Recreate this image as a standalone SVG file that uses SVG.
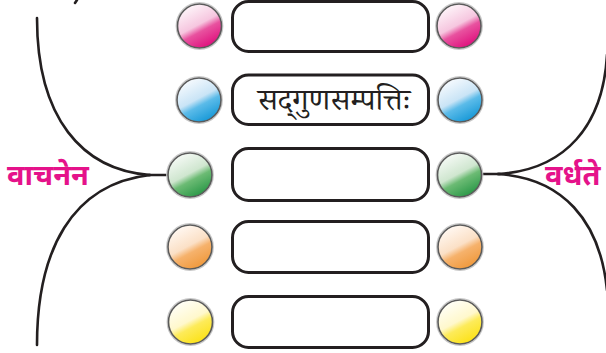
<svg xmlns="http://www.w3.org/2000/svg" width="606" height="353" viewBox="0 0 606 353">
<style>
.box{fill:#fff;stroke:#231f20;stroke-width:3}
.ball{stroke:#5a5a5a;stroke-width:1.6}
.ring{fill:none;stroke:#c8c8c8;stroke-width:1.2}
.conn{fill:none;stroke:#231f20;stroke-width:2.6;stroke-linecap:round}
.lbl{font-family:"Noto Sans Devanagari","Noto Sans",sans-serif;font-weight:bold;font-size:29px;fill:#e5128a}
.txt{font-family:"Noto Serif Devanagari","Noto Sans Devanagari","Noto Sans",serif;font-size:31px;fill:#231f20}
</style>
<defs>
<linearGradient id="gPink" x1="0.25" y1="0.1" x2="0.7" y2="0.95"><stop offset="0" stop-color="#fdf1f7"/><stop offset="0.45" stop-color="#f6c6df"/><stop offset="0.62" stop-color="#e8529f"/><stop offset="1" stop-color="#e0137f"/></linearGradient>
<linearGradient id="gBlue" x1="0.25" y1="0.1" x2="0.7" y2="0.95"><stop offset="0" stop-color="#f2f8fd"/><stop offset="0.45" stop-color="#c9e4f6"/><stop offset="0.62" stop-color="#5bbbe9"/><stop offset="1" stop-color="#1a9ad8"/></linearGradient>
<linearGradient id="gGreen" x1="0.25" y1="0.1" x2="0.7" y2="0.95"><stop offset="0" stop-color="#f2f8f2"/><stop offset="0.45" stop-color="#cfe6cf"/><stop offset="0.62" stop-color="#6cbb74"/><stop offset="1" stop-color="#2e9a4a"/></linearGradient>
<linearGradient id="gOrange" x1="0.25" y1="0.1" x2="0.7" y2="0.95"><stop offset="0" stop-color="#fff6ee"/><stop offset="0.45" stop-color="#fbe0c6"/><stop offset="0.62" stop-color="#f6b26c"/><stop offset="1" stop-color="#f09a3e"/></linearGradient>
<linearGradient id="gYellow" x1="0.25" y1="0.1" x2="0.7" y2="0.95"><stop offset="0" stop-color="#fffef4"/><stop offset="0.45" stop-color="#fff8cc"/><stop offset="0.62" stop-color="#fdeb5a"/><stop offset="1" stop-color="#fce21a"/></linearGradient>
</defs>

<g id="connectors">
<path class="conn" d="M37,18 C37,118 82,170 150,175"/>
<path class="conn" d="M150,175 C72,184 37,250 37,345"/>
<path class="conn" d="M148,175 L166,175"/>
<path class="conn" d="M77,0 L75,3"/>
<path class="conn" d="M483,174 L500,174"/>
<path class="conn" d="M498,174 C566,170 603,125 607,55"/>
<path class="conn" d="M498,174 C562,178 600,220 607,290"/>
</g>

<g id="row1-left"><circle class="ring" cx="199.5" cy="26" r="23.3"/><circle class="ball" cx="199.5" cy="26" r="22" fill="url(#gPink)"/></g>
<g id="row1-box"><rect class="box" x="232.5" y="1.5" width="196" height="50" rx="16"/></g>
<g id="row1-right"><circle class="ring" cx="459" cy="26" r="23.3"/><circle class="ball" cx="459" cy="26" r="22" fill="url(#gPink)"/></g>

<g id="row2-left"><circle class="ring" cx="199" cy="100" r="23.3"/><circle class="ball" cx="199" cy="100" r="22" fill="url(#gBlue)"/></g>
<g id="row2-box"><rect class="box" x="232.5" y="75" width="196" height="49.5" rx="16"/>
<text class="txt" x="334" y="110" text-anchor="middle">सद्‌गुणसम्पत्तिः</text></g>
<g id="row2-right"><circle class="ring" cx="460" cy="100" r="23.3"/><circle class="ball" cx="460" cy="100" r="22" fill="url(#gBlue)"/></g>

<g id="row3-left"><circle class="ring" cx="190" cy="175" r="23.3"/><circle class="ball" cx="190" cy="175" r="22" fill="url(#gGreen)"/></g>
<g id="row3-box"><rect class="box" x="232.5" y="148.5" width="196" height="52" rx="16"/></g>
<g id="row3-right"><circle class="ring" cx="459.5" cy="175" r="23.3"/><circle class="ball" cx="459.5" cy="175" r="22" fill="url(#gGreen)"/></g>

<g id="row4-left"><circle class="ring" cx="190" cy="247" r="23.3"/><circle class="ball" cx="190" cy="247" r="22" fill="url(#gOrange)"/></g>
<g id="row4-box"><rect class="box" x="232.5" y="221.5" width="196" height="51" rx="16"/></g>
<g id="row4-right"><circle class="ring" cx="460" cy="247" r="23.3"/><circle class="ball" cx="460" cy="247" r="22" fill="url(#gOrange)"/></g>

<g id="row5-left"><circle class="ring" cx="190.5" cy="322" r="23.3"/><circle class="ball" cx="190.5" cy="322" r="22" fill="url(#gYellow)"/></g>
<g id="row5-box"><rect class="box" x="232.5" y="296.5" width="196" height="51" rx="16"/></g>
<g id="row5-right"><circle class="ring" cx="460" cy="322" r="23.3"/><circle class="ball" cx="460" cy="322" r="22" fill="url(#gYellow)"/></g>

<g id="label-left"><text class="lbl" x="7" y="185">वाचनेन</text></g>
<g id="label-right"><text class="lbl" x="545" y="185" font-size="31">वर्धते</text></g>
</svg>
